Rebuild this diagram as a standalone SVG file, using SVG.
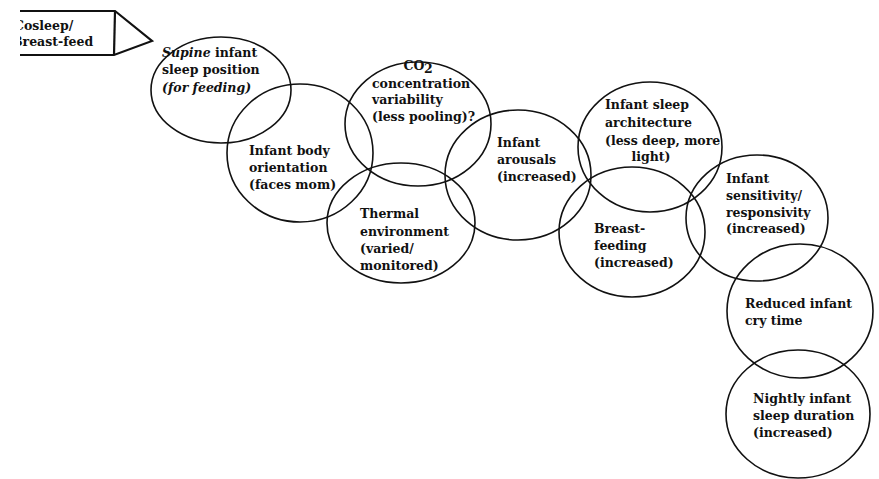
<svg xmlns="http://www.w3.org/2000/svg" width="879" height="479" viewBox="0 0 879 479">
  <style>
    .ring { fill: none; stroke: #111; stroke-width: 1.6; }
    .tag { fill: none; stroke: #111; stroke-width: 2.2; stroke-linejoin: miter; }
    text { font-family: "DejaVu Serif", "Liberation Serif", serif; font-size: 12.5px; font-weight: bold; fill: #111; }
    .it { font-style: italic; }
    .mid { text-anchor: middle; }
  </style>
  <defs>
    <clipPath id="leftEdge">
      <rect x="20" y="0" width="859" height="479"/>
    </clipPath>
  </defs>
  <rect width="879" height="479" fill="#fff"/>

  <!-- pointer box feeding into the chain -->
  <g id="cosleep" clip-path="url(#leftEdge)">
    <path class="tag" d="M 20 11 L 115 11 L 152 41 L 114 55 L 20 55"/>
    <line class="tag" x1="115" y1="11" x2="114" y2="55" stroke-width="1.6"/>
    <text x="14" y="30">Cosleep/</text>
    <text x="12" y="46">Breast-feed</text>
  </g>

  <g id="supine">
    <ellipse class="ring" cx="221" cy="90" rx="70" ry="53"/>
    <text x="162" y="57"><tspan class="it">Supine</tspan> infant</text>
    <text x="162" y="74">sleep position</text>
    <text x="162" y="92" class="it">(for feeding)</text>
  </g>

  <g id="orientation">
    <ellipse class="ring" cx="300" cy="153" rx="73" ry="69"/>
    <text x="249" y="155">Infant body</text>
    <text x="249" y="172">orientation</text>
    <text x="249" y="189">(faces mom)</text>
  </g>

  <g id="co2">
    <ellipse class="ring" cx="418" cy="124" rx="73" ry="62"/>
    <text x="414" y="70" class="mid">CO</text>
    <text x="424" y="73" font-size="8">2</text>
    <text x="372" y="88">concentration</text>
    <text x="372" y="104">variability</text>
    <text x="372" y="121">(less pooling)?</text>
  </g>

  <g id="thermal">
    <ellipse class="ring" cx="401" cy="223" rx="74" ry="60"/>
    <text x="360" y="218">Thermal</text>
    <text x="360" y="236">environment</text>
    <text x="360" y="253">(varied/</text>
    <text x="360" y="270">monitored)</text>
  </g>

  <g id="arousals">
    <ellipse class="ring" cx="518" cy="175" rx="73" ry="65"/>
    <text x="497" y="147">Infant</text>
    <text x="497" y="164">arousals</text>
    <text x="497" y="181">(increased)</text>
  </g>

  <g id="architecture">
    <ellipse class="ring" cx="650" cy="147" rx="72" ry="65"/>
    <text x="605" y="109">Infant sleep</text>
    <text x="605" y="127">architecture</text>
    <text x="605" y="145">(less deep, more</text>
    <text x="651" y="161" class="mid">light)</text>
  </g>

  <g id="breastfeeding">
    <ellipse class="ring" cx="632" cy="232" rx="73" ry="65"/>
    <text x="594" y="233">Breast-</text>
    <text x="594" y="250">feeding</text>
    <text x="594" y="267">(increased)</text>
  </g>

  <g id="sensitivity">
    <ellipse class="ring" cx="757" cy="218" rx="71" ry="63"/>
    <text x="726" y="183">Infant</text>
    <text x="726" y="200">sensitivity/</text>
    <text x="726" y="217">responsivity</text>
    <text x="726" y="233">(increased)</text>
  </g>

  <g id="cry">
    <ellipse class="ring" cx="800" cy="311" rx="73" ry="67"/>
    <text x="745" y="308">Reduced infant</text>
    <text x="745" y="325">cry time</text>
  </g>

  <g id="duration">
    <ellipse class="ring" cx="798" cy="414" rx="72" ry="64"/>
    <text x="753" y="403">Nightly infant</text>
    <text x="753" y="420">sleep duration</text>
    <text x="753" y="437">(increased)</text>
  </g>
</svg>
